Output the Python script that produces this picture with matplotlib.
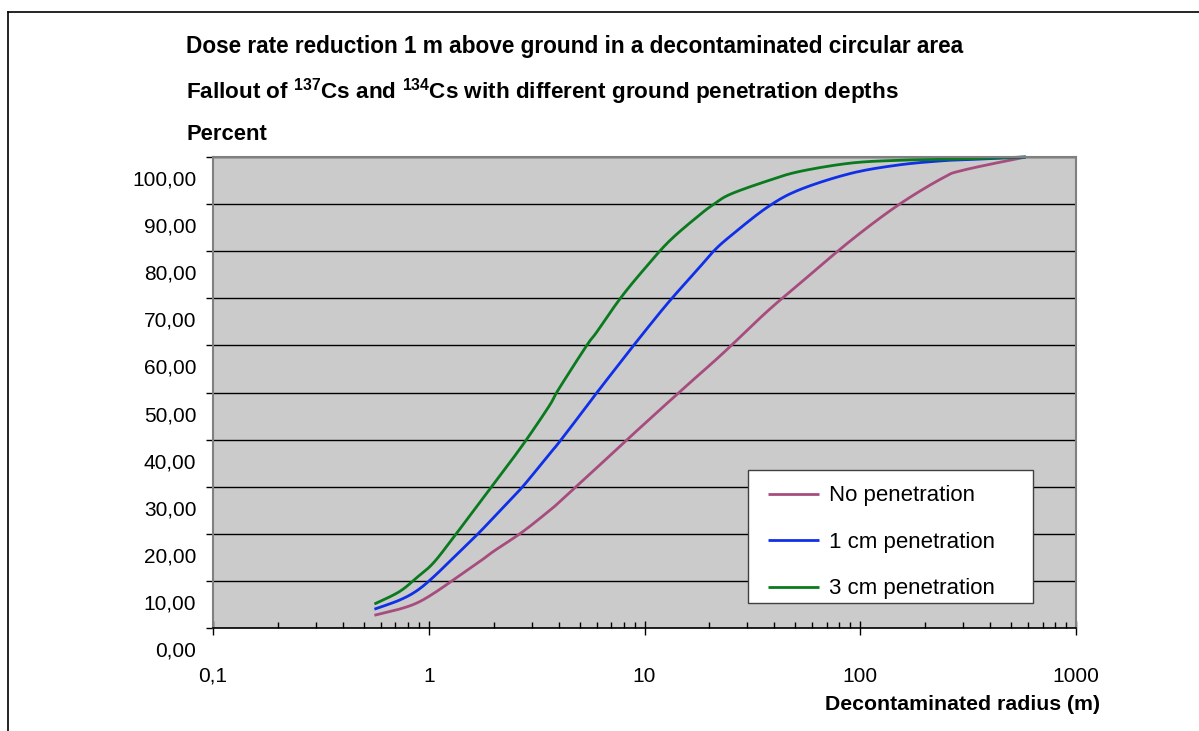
import matplotlib
matplotlib.use("Agg")
import numpy as np
import matplotlib.pyplot as plt
from matplotlib.ticker import FixedLocator, FixedFormatter, LogLocator, NullFormatter
from matplotlib.transforms import ScaledTranslation
from matplotlib.lines import Line2D
from matplotlib.patches import Rectangle

plt.rcParams['font.family'] = ['Liberation Sans', 'DejaVu Sans']
plt.rcParams['mathtext.fontset'] = 'custom'
plt.rcParams['mathtext.bf'] = 'Liberation Sans:bold'
plt.rcParams['mathtext.rm'] = 'Liberation Sans:bold'
plt.rcParams['mathtext.default'] = 'bf'

radius = [0.56, 0.73, 0.88, 1.05, 1.3, 1.7, 2.0, 2.7, 3.6, 4.0, 5.4, 6.0, 7.7,
          9.8, 13, 18, 21, 25, 37, 52, 90, 150, 240, 300, 585]
no_pen = [2.7, 4.0, 5.3, 7.3, 10.2, 13.9, 16.3, 20.3, 24.8, 26.6, 32.1, 34.0, 38.6,
          43.0, 48.1, 53.9, 56.6, 59.8, 67.2, 73.0, 82.2, 89.8, 95.5, 97.2, 100.0]
pen_1cm = [4.0, 5.9, 7.9, 10.8, 14.9, 20.1, 23.5, 29.8, 36.8, 39.3, 47.1, 49.9, 56.3,
           62.4, 69.3, 76.6, 80.1, 83.2, 89.3, 93.0, 96.5, 98.3, 99.2, 99.4, 100.0]
pen_3cm = [5.1, 7.7, 10.7, 13.8, 19.2, 26.3, 30.6, 38.6, 47.0, 50.7, 60.0, 62.8, 69.9,
           75.8, 82.1, 87.7, 90.0, 92.1, 94.9, 96.9, 98.7, 99.3, 99.5, 99.6, 100.0]
series_names = ["No penetration", "1 cm penetration", "3 cm penetration"]
series_colors = ["#A64D7E", "#1030E8", "#0A7A1E"]
x_ticks = [0.1, 1, 10, 100, 1000]
x_tick_labels = ["0,1", "1", "10", "100", "1000"]
y_ticks = [0, 10, 20, 30, 40, 50, 60, 70, 80, 90, 100]
y_tick_labels = ["0,00", "10,00", "20,00", "30,00", "40,00", "50,00", "60,00",
                 "70,00", "80,00", "90,00", "100,00"]


def smooth_line(xs, ys, n=16):
    """Catmull-Rom smoothing (like a spreadsheet 'smoothed line') in log-x space."""
    p = np.column_stack([np.log10(xs), ys])
    p = np.vstack([p[0], p, p[-1]])
    out = []
    for i in range(1, len(p) - 2):
        p0, p1, p2, p3 = p[i - 1], p[i], p[i + 1], p[i + 2]
        t = np.linspace(0, 1, n, endpoint=False)[:, None]
        seg = 0.5 * (2 * p1 + (-p0 + p2) * t + (2 * p0 - 5 * p1 + 4 * p2 - p3) * t ** 2
                     + (-p0 + 3 * p1 - 3 * p2 + p3) * t ** 3)
        out.append(seg)
    out.append(p[-2][None, :])
    out = np.vstack(out)
    return 10 ** out[:, 0], np.minimum(out[:, 1], 100.0)


W, H = 1199, 731
fig = plt.figure(figsize=(W / 100, H / 100), dpi=100)
fig.patch.set_facecolor("white")

L, R, T, B = 213, 1076, 157, 628
ax = fig.add_axes([L / W, 1 - B / H, (R - L) / W, (B - T) / H])
ax.set_facecolor("#CBCBCB")
ax.set_xscale("log")
ax.set_xlim(0.1, 1000)
ax.set_ylim(0, 100)

for vals, name, col in zip([no_pen, pen_1cm, pen_3cm], series_names, series_colors):
    sx, sy = smooth_line(radius, vals)
    ax.plot(sx, sy, color=col, lw=2.0, label=name, solid_capstyle='butt', clip_on=False)

ax.yaxis.set_major_locator(FixedLocator(y_ticks))
ax.yaxis.set_major_formatter(FixedFormatter(y_tick_labels))
ax.xaxis.set_major_locator(FixedLocator(x_ticks))
ax.xaxis.set_major_formatter(FixedFormatter(x_tick_labels))
ax.xaxis.set_minor_locator(LogLocator(base=10, subs=range(2, 10)))
ax.xaxis.set_minor_formatter(NullFormatter())

ax.grid(axis='y', which='major', color='black', lw=1.0)
ax.set_axisbelow(True)

for side in ['top', 'right', 'left']:
    ax.spines[side].set_color('#808080')
    ax.spines[side].set_linewidth(1.5)
ax.spines['bottom'].set_color('black')
ax.spines['bottom'].set_linewidth(1.2)

ax.tick_params(axis='y', which='major', direction='out', length=5, width=1,
               color='black', labelsize=15, pad=7)
ax.tick_params(axis='x', which='major', direction='inout', length=10, width=1,
               color='black', labelsize=15, pad=23)
ax.tick_params(axis='x', which='minor', direction='in', length=4, width=1, color='black')

off_y = ScaledTranslation(0, -21 / 100, fig.dpi_scale_trans)
for lab in ax.get_yticklabels():
    lab.set_transform(lab.get_transform() + off_y)

# legend frame (spreadsheet-style box), drawn separately to match its size
lx0, ly0, lx1, ly1 = 748, 470, 1033, 603
frame = Rectangle(((lx0 - L) / (R - L), (B - ly1) / (B - T)),
                  (lx1 - lx0) / (R - L), (ly1 - ly0) / (B - T),
                  transform=ax.transAxes, facecolor='white', edgecolor='#404040',
                  lw=1.0, zorder=4)
ax.add_patch(frame)
leg = ax.legend(loc='upper left', bbox_to_anchor=((755 - L) / (R - L), (B - 472) / (B - T)),
                fontsize=16, frameon=False, handlelength=2.3,
                handletextpad=0.45, labelspacing=1.15, borderpad=0.6,
                borderaxespad=0)
leg.set_zorder(5)

fig.text(186 / W, 1 - 46 / H, "Dose rate reduction 1 m above ground in a decontaminated circular area",
         fontsize=16.3, fontweight='bold', ha='left', va='center')
fig.text(186 / W, 1 - 92 / H,
         r"Fallout of $^{137}$Cs and $^{134}$Cs with different ground penetration depths",
         fontsize=16.2, fontweight='bold', ha='left', va='center')
fig.text(186 / W, 1 - 135 / H, "Percent", fontsize=15.8, fontweight='bold', ha='left', va='center')
fig.text(1100 / W, 1 - 705 / H, "Decontaminated radius (m)", fontsize=15.3, fontweight='bold',
         ha='right', va='center')

fig.add_artist(Line2D([8 / W, 1], [1 - 12 / H, 1 - 12 / H], transform=fig.transFigure,
                      color='black', lw=1.2))
fig.add_artist(Line2D([8 / W, 8 / W], [0, 1 - 12 / H], transform=fig.transFigure,
                      color='black', lw=1.2))

fig.savefig("out.png", dpi=100)
